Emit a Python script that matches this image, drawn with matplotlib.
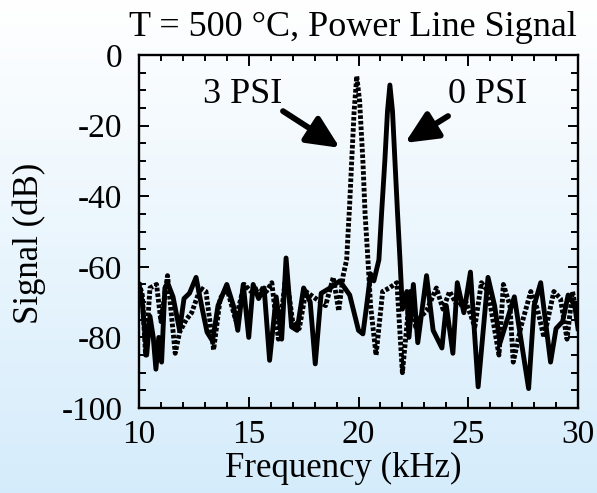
import numpy as np
import matplotlib
matplotlib.use("Agg")
import matplotlib.pyplot as plt
from matplotlib.ticker import MultipleLocator

# ---- data ----
freq_0psi = [10.0, 10.15, 10.35, 10.5, 10.65, 10.77, 10.9, 11.03, 11.18, 11.3, 11.55, 11.85,
             12.05, 12.3, 12.6, 12.85, 13.1, 13.35, 13.6, 14.0, 14.3, 14.5, 14.75, 15.0,
             15.2, 15.45, 15.7, 15.95, 16.25, 16.5, 16.7, 16.95, 17.2, 17.5, 17.8, 18.03,
             18.3, 18.7, 19.15, 19.6, 20.0, 20.2, 20.35, 20.55, 20.7, 20.93, 21.05, 21.2,
             21.32, 21.43, 21.55, 21.66, 21.78, 21.89, 22.0, 22.2, 22.3, 22.5, 22.7, 23.1,
             23.4, 23.8, 24.0, 24.3, 24.5, 24.8, 25.1, 25.45, 25.9, 26.2, 26.45, 26.75,
             27.1, 27.4, 27.75, 28.0, 28.3, 28.55, 28.75, 29.0, 29.3, 29.55, 29.85, 30.0]
sig_0psi = [-65, -70, -85, -74, -80, -89, -80, -87, -66, -64.5, -68.5, -78,
            -69, -67.5, -63, -71, -78.5, -81, -71, -65, -71, -78, -65, -80,
            -65, -69, -66, -86.5, -68.5, -80.5, -57.5, -77, -78, -66, -70, -87.5,
            -67.5, -66, -64, -68, -78, -79, -72, -62, -64, -58, -45, -30,
            -16, -8.5, -16, -30, -45, -58, -72, -67, -80, -65, -81.5, -62.5,
            -78, -83, -71, -84.5, -64.5, -73, -61.5, -94, -63, -71, -81.5, -75.5,
            -68.5, -80.5, -94.5, -71, -64.5, -77, -87, -77.5, -75.5, -68, -71, -77.5]

freq_3psi = [10.0, 10.15, 10.3, 10.5, 10.8, 11.0, 11.3, 11.65, 11.85, 12.15, 12.4, 12.8,
             13.05, 13.4, 13.7, 14.0, 14.4, 14.8, 15.1, 15.5, 15.8, 16.05, 16.35, 16.7,
             17.0, 17.3, 17.6, 18.05, 18.5, 18.85, 19.1, 19.3, 19.46, 19.6, 19.69, 19.8,
             19.92, 20.05, 20.2, 20.3, 20.43, 20.55, 20.8, 21.1, 21.4, 21.75, 22.0, 22.35,
             22.6, 22.85, 23.1, 23.55, 23.85, 24.15, 24.5, 24.9, 25.3, 25.6, 25.9, 26.4,
             26.6, 26.9, 27.05, 27.4, 27.85, 28.15, 28.45, 28.9, 29.2, 29.5, 29.75, 30.0]
sig_3psi = [-64.5, -68, -85, -66, -65, -75.5, -62.5, -84.5, -78.5, -75, -73, -66,
            -67, -83.5, -69, -66, -75, -65, -67, -66, -67, -64.5, -80.5, -62,
            -75.5, -77.5, -67, -69, -71, -63, -72.5, -62.5, -58, -42, -30, -16,
            -6, -13, -30, -45, -58, -71, -85, -67, -66, -64.5, -90, -67,
            -77, -74, -72.5, -66, -72, -67, -71, -70, -77, -64.5, -67, -85,
            -65, -71, -87, -77, -67, -72, -80, -67, -69, -80.5, -67, -75.5]

x_ticks = [10, 15, 20, 25, 30]
y_ticks = [0, -20, -40, -60, -80, -100]
title = "T = 500 °C, Power Line Signal"
xlabel = "Frequency (kHz)"
ylabel = "Signal (dB)"
labels = ["3 PSI", "0 PSI"]

# ---- figure ----
W, H, DPI = 597, 493, 100
plt.rcParams['font.family'] = ['Liberation Serif', 'DejaVu Serif']
plt.rcParams['axes.unicode_minus'] = False
fig = plt.figure(figsize=(W / DPI, H / DPI), dpi=DPI)

# gradient background
bg = fig.add_axes([0, 0, 1, 1], zorder=-10)
grad = np.linspace(0, 1, 256).reshape(-1, 1)
top = np.array([1.0, 1.0, 1.0])
bot = np.array([0.835, 0.925, 0.985])
img = top[None, None, :] * (1 - grad[:, :, None]) + bot[None, None, :] * grad[:, :, None]
bg.imshow(img, aspect='auto', extent=[0, 1, 0, 1], origin='upper')
bg.set_axis_off()

L, R, B, T = 139 / W, 578 / W, 1 - 408 / H, 1 - 55 / H
ax = fig.add_axes([L, B, R - L, T - B])
ax.set_facecolor('none')

ax.plot(freq_3psi, sig_3psi, color='black', lw=3.5,
        linestyle=(0, (0.75, 0.4)), dash_capstyle='butt', solid_joinstyle='round')
ax.plot(freq_0psi, sig_0psi, color='black', lw=3.5, solid_joinstyle='round')

ax.set_xlim(10, 30)
ax.set_ylim(-100, 0)
ax.set_xticks(x_ticks)
ax.set_yticks(y_ticks)
ax.xaxis.set_minor_locator(MultipleLocator(1))
ax.yaxis.set_minor_locator(MultipleLocator(5))
ax.tick_params(which='both', direction='in', top=True, right=True, width=1.4,
               labelsize=24, colors='black')
ax.tick_params(axis='x', which='major', length=8, pad=8)
ax.tick_params(axis='x', which='minor', length=4)
ax.tick_params(axis='y', which='major', length=7, pad=12)
ax.tick_params(axis='y', which='minor', length=5)
for s in ax.spines.values():
    s.set_linewidth(1.7)

fig.text(353 / W, 1 - 28 / H, title, fontsize=26, ha='center', va='center')
ax.set_xlabel(xlabel, fontsize=25)
ax.xaxis.label.set_va('center')
ax.xaxis.set_label_coords(343 / W, 1 - 468 / H, transform=fig.transFigure)
ax.set_ylabel(ylabel, fontsize=25)
ax.yaxis.label.set_va('center')
ax.yaxis.set_label_coords(29 / W, 1 - 243 / H, transform=fig.transFigure)

arrow_props = dict(arrowstyle='-|>,head_length=1.4,head_width=0.65', lw=4.2,
                   color='black', shrinkA=0, shrinkB=0, mutation_scale=14)
ax.text(14.7, -11.3, labels[0], fontsize=26, ha='center', va='center')
ax.text(25.9, -11.3, labels[1], fontsize=26, ha='center', va='center')
ax.annotate('', xy=(19.15, -26.3), xytext=(16.56, -15.9), arrowprops=arrow_props)
ax.annotate('', xy=(22.12, -24.9), xytext=(24.08, -17.3), arrowprops=arrow_props)

fig.savefig('out.png', dpi=DPI)
